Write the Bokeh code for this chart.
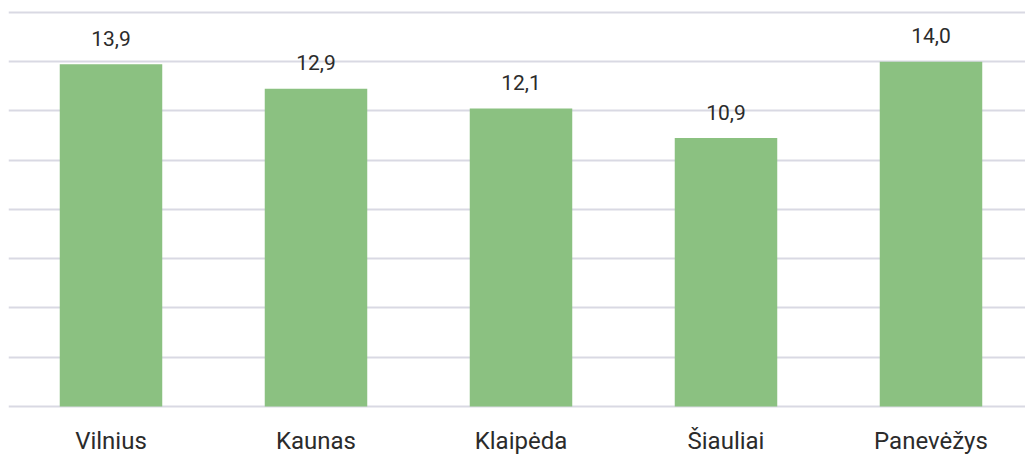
from bokeh.plotting import figure
from bokeh.models import Range1d, FixedTicker, ColumnDataSource, LabelSet
from bokeh.core.properties import value
from bokeh.embed import file_html
from bokeh.resources import INLINE

cities = ["Vilnius", "Kaunas", "Klaipėda", "Šiauliai", "Panevėžys"]
values = [13.9, 12.9, 12.1, 10.9, 14.0]
labels = ["13,9", "12,9", "12,1", "10,9", "14,0"]
y_ticks = [0, 2, 4, 6, 8, 10, 12, 14, 16]

xs = list(range(len(cities)))
src = ColumnDataSource(dict(x=xs, top=values, lab=labels, city=cities, zero=[0] * len(cities)))

p = figure(frame_width=1017, frame_height=454, output_backend="svg", toolbar_location=None,
           x_range=Range1d(-0.5, 4.461), y_range=Range1d(-1.950, 16.487),
           min_border_left=8, min_border_right=0, min_border_top=0, min_border_bottom=0)
p.outline_line_color = None
p.background_fill_color = "white"
p.border_fill_color = "white"

p.vbar(x="x", top="top", width=0.5, bottom=0, source=src, color="#8bc181", line_color=None)

ls = LabelSet(x="x", y="top", text="lab", source=src, text_align="center",
              text_baseline="middle", y_offset=26, text_font=value("Roboto"),
              text_font_size=value("21px"), text_color="#2b2b2b")
p.add_layout(ls)

cat = LabelSet(x="x", y="zero", text="city", source=src, text_align="center",
               text_baseline="alphabetic", y_offset=-43, text_font=value("Roboto"),
               text_font_size=value("24px"), text_color="#2b2b2b")
p.add_layout(cat)

p.yaxis.visible = False
p.xaxis.visible = False
p.ygrid.ticker = FixedTicker(ticks=y_ticks)
p.ygrid.grid_line_color = "#d9d9e3"
p.ygrid.grid_line_width = 2
p.xgrid.grid_line_color = None

open("out.html", "w").write(file_html(p, INLINE))
